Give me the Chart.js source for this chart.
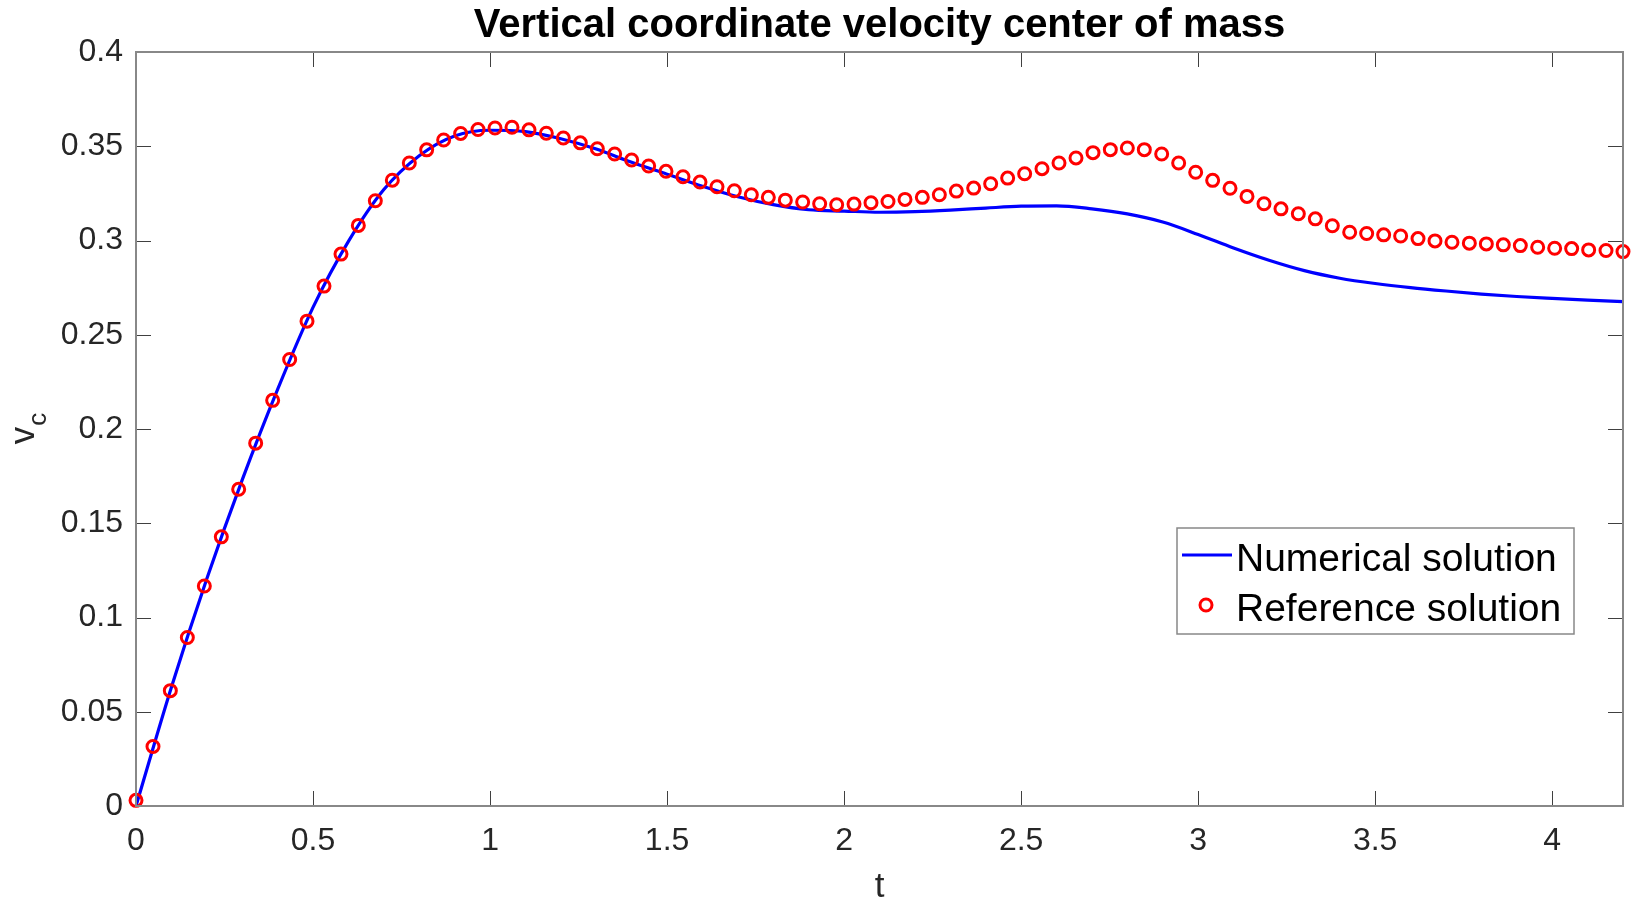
<!DOCTYPE html>
<html>
<head>
<meta charset="utf-8">
<title>Vertical coordinate velocity center of mass</title>
<script src="https://cdn.jsdelivr.net/npm/chart.js@4.4.1/dist/chart.umd.min.js"></script>
<style>
html, body { margin: 0; padding: 0; background: #fff; }
#wrap { width: 1635px; height: 900px; }
</style>
</head>
<body>
<div id="wrap"><canvas id="grafico" width="1635" height="900"></canvas></div>
<script>
const fuente = "'Liberation Sans', Arial, Helvetica, sans-serif";

const tituloGrafico = 'Vertical coordinate velocity center of mass';
const etiquetaX = 't';
const etiquetaY = 'v';
const subindiceY = 'c';
const nombreNum = 'Numerical solution';
const nombreRef = 'Reference solution';

const ticksX = [0, 0.5, 1, 1.5, 2, 2.5, 3, 3.5, 4];
const ticksY = [0, 0.05, 0.1, 0.15, 0.2, 0.25, 0.3, 0.35, 0.4];

// numerical solution (solid line)
const tiempoNum = [0, 0.1, 0.2, 0.3, 0.4, 0.5, 0.6, 0.7, 0.8, 0.9,
  1.0, 1.1, 1.2, 1.3, 1.4, 1.5, 1.6, 1.7, 1.8, 1.9,
  2.0, 2.1, 2.2, 2.3, 2.4, 2.5, 2.6, 2.7, 2.8, 2.9,
  3.0, 3.1, 3.2, 3.3, 3.4, 3.5, 3.6, 3.7, 3.8, 3.9,
  4.0, 4.1, 4.2];
const velNum = [0, 0.063, 0.1205, 0.173, 0.221, 0.2645, 0.2995, 0.327, 0.345, 0.3555,
  0.3585, 0.3578, 0.354, 0.3485, 0.3415, 0.3352, 0.3288, 0.3232, 0.319, 0.3163,
  0.3156, 0.315, 0.3153, 0.3161, 0.3172, 0.3182, 0.3184, 0.3168, 0.3141, 0.3098,
  0.3032, 0.296, 0.2895, 0.284, 0.28, 0.2772, 0.275, 0.2732, 0.2716, 0.2703,
  0.2693, 0.2684, 0.2676];

// reference solution (circles)
const tiempoRef = [0, 0.048, 0.097, 0.145, 0.193, 0.241, 0.290, 0.338, 0.386, 0.434,
  0.483, 0.531, 0.579, 0.628, 0.676, 0.724, 0.772, 0.821, 0.869, 0.917,
  0.966, 1.014, 1.062, 1.110, 1.159, 1.207, 1.255, 1.303, 1.352, 1.400,
  1.448, 1.497, 1.545, 1.593, 1.641, 1.690, 1.738, 1.786, 1.834, 1.883,
  1.931, 1.979, 2.028, 2.076, 2.124, 2.172, 2.221, 2.269, 2.317, 2.366,
  2.414, 2.462, 2.510, 2.559, 2.607, 2.655, 2.703, 2.752, 2.800, 2.848,
  2.897, 2.945, 2.993, 3.041, 3.090, 3.138, 3.186, 3.234, 3.283, 3.331,
  3.379, 3.428, 3.476, 3.524, 3.572, 3.621, 3.669, 3.717, 3.766, 3.814,
  3.862, 3.910, 3.959, 4.007, 4.055, 4.103, 4.152, 4.200];
const velRef = [0.003, 0.0316, 0.0612, 0.0894, 0.1167, 0.1428, 0.168, 0.1925, 0.2152, 0.2369,
  0.2572, 0.2758, 0.2928, 0.308, 0.3211, 0.332, 0.3411, 0.3481, 0.3533, 0.3568,
  0.3589, 0.3597, 0.3601, 0.3587, 0.3569, 0.3544, 0.3518, 0.3487, 0.3459, 0.3427,
  0.3395, 0.3367, 0.3338, 0.331, 0.3285, 0.3264, 0.3243, 0.3229, 0.3214, 0.3204,
  0.3195, 0.319, 0.3193, 0.32, 0.3207, 0.3218, 0.3229, 0.3243, 0.3262, 0.3278,
  0.3301, 0.3331, 0.3354, 0.3381, 0.3411, 0.3438, 0.3466, 0.3482, 0.3491, 0.3482,
  0.3459, 0.3411, 0.3362, 0.3319, 0.3277, 0.3234, 0.3195, 0.3168, 0.3142, 0.3115,
  0.3078, 0.3044, 0.3037, 0.303, 0.3024, 0.301, 0.2998, 0.2991, 0.2986, 0.2982,
  0.2977, 0.2973, 0.2964, 0.2959, 0.2957, 0.295, 0.2947, 0.2941];

const formato = v => String(Math.round(v * 1000) / 1000);

// box around the axes with ticks pointing inwards (matlab style)
const marcoEjes = {
  id: 'marcoEjes',
  afterDatasetsDraw(chart) {
    const { ctx, chartArea: a, scales: { x, y } } = chart;
    const largo = 15;
    ctx.save();
    ctx.strokeStyle = '#404040';
    ctx.lineWidth = 1;
    ctx.beginPath();
    x.ticks.forEach(t => {
      const px = Math.round(x.getPixelForValue(t.value)) + 0.5;
      ctx.moveTo(px, a.bottom); ctx.lineTo(px, a.bottom - largo);
      ctx.moveTo(px, a.top); ctx.lineTo(px, a.top + largo);
    });
    y.ticks.forEach(t => {
      const py = Math.round(y.getPixelForValue(t.value)) + 0.5;
      ctx.moveTo(a.left, py); ctx.lineTo(a.left + largo, py);
      ctx.moveTo(a.right, py); ctx.lineTo(a.right - largo, py);
    });
    ctx.stroke();
    ctx.strokeStyle = '#888888';
    ctx.lineWidth = 2;
    ctx.strokeRect(a.left, a.top, a.right - a.left, a.bottom - a.top);
    ctx.restore();
  }
};

// title, axis labels and the legend box
const textos = {
  id: 'textos',
  afterDraw(chart) {
    const { ctx, chartArea: a } = chart;
    const cx = (a.left + a.right) / 2;
    const cy = (a.top + a.bottom) / 2;
    ctx.save();
    ctx.fillStyle = '#000';
    ctx.textAlign = 'center';
    ctx.textBaseline = 'alphabetic';
    ctx.font = 'bold 40px ' + fuente;
    ctx.fillText(tituloGrafico, cx, a.top - 15);

    ctx.fillStyle = '#262626';
    ctx.font = '35px ' + fuente;
    ctx.fillText(etiquetaX, cx, a.bottom + 91);

    // y label with subscript
    ctx.translate(34, cy);
    ctx.rotate(-Math.PI / 2);
    ctx.textAlign = 'left';
    ctx.font = '35px ' + fuente;
    const w1 = ctx.measureText(etiquetaY).width;
    ctx.font = '26px ' + fuente;
    const w2 = ctx.measureText(subindiceY).width;
    const x0 = -(w1 + w2) / 2;
    ctx.font = '35px ' + fuente;
    ctx.fillText(etiquetaY, x0, 0);
    ctx.font = '26px ' + fuente;
    ctx.fillText(subindiceY, x0 + w1 + 1, 12);
    ctx.restore();

    // legend
    const ds = chart.data.datasets;
    const izq = a.right - 446, arr = 528, ancho = 397, alto = 106;
    ctx.save();
    ctx.fillStyle = '#fff';
    ctx.fillRect(izq, arr, ancho, alto);
    ctx.strokeStyle = '#888888';
    ctx.lineWidth = 1.5;
    ctx.strokeRect(izq, arr, ancho, alto);
    const filas = [arr + 27, arr + 77];
    const orden = [1, 0];
    orden.forEach((i, n) => {
      const d = ds[i];
      const fy = filas[n];
      if (d.showLine === false) {
        ctx.strokeStyle = d.borderColor;
        ctx.lineWidth = d.pointBorderWidth;
        ctx.beginPath();
        ctx.arc(izq + 29, fy, d.pointRadius, 0, Math.PI * 2);
        ctx.stroke();
      } else {
        ctx.strokeStyle = d.borderColor;
        ctx.lineWidth = d.borderWidth;
        ctx.beginPath();
        ctx.moveTo(izq + 5, fy);
        ctx.lineTo(izq + 55, fy);
        ctx.stroke();
      }
      ctx.fillStyle = '#000';
      ctx.font = '39px ' + fuente;
      ctx.textAlign = 'left';
      ctx.textBaseline = 'alphabetic';
      ctx.fillText(d.label, izq + 59, fy + 16);
    });
    ctx.restore();
  }
};

const ctxGrafico = document.getElementById('grafico').getContext('2d');
const configuracion = {
  type: 'line',
  data: {
    datasets: [{
      label: nombreRef,
      data: tiempoRef.map((t, i) => ({ x: t, y: velRef[i] })),
      showLine: false,
      pointStyle: 'circle',
      pointRadius: 6,
      pointBorderWidth: 3,
      pointBackgroundColor: 'rgba(0,0,0,0)',
      borderColor: '#ff0000',
      pointBorderColor: '#ff0000',
      clip: false,
      order: 0
    }, {
      label: nombreNum,
      data: tiempoNum.map((t, i) => ({ x: t, y: velNum[i] })),
      borderColor: '#0000ff',
      borderWidth: 3.2,
      pointRadius: 0,
      fill: false,
      cubicInterpolationMode: 'monotone',
      order: 1
    }]
  },
  options: {
    responsive: false,
    animation: false,
    devicePixelRatio: 1,
    layout: { padding: { top: 52, right: 12, left: 0, bottom: 0 } },
    plugins: {
      legend: { display: false },
      tooltip: { enabled: false },
      title: { display: false }
    },
    scales: {
      x: {
        type: 'linear',
        min: 0,
        max: 4.2,
        grid: { display: false, drawTicks: false },
        border: { display: false },
        afterBuildTicks: s => { s.ticks = ticksX.map(v => ({ value: v })); },
        afterFit: s => { s.height = 94; },
        ticks: {
          padding: 16,
          color: '#262626',
          font: { family: fuente, size: 32 },
          maxRotation: 0,
          autoSkip: false,
          callback: v => formato(v)
        }
      },
      y: {
        type: 'linear',
        min: 0,
        max: 0.4,
        grid: { display: false, drawTicks: false },
        border: { display: false },
        afterBuildTicks: s => { s.ticks = ticksY.map(v => ({ value: v })); },
        afterFit: s => { s.width = 136; },
        ticks: {
          padding: 13,
          color: '#262626',
          font: { family: fuente, size: 32 },
          autoSkip: false,
          callback: v => formato(v)
        }
      }
    }
  },
  plugins: [marcoEjes, textos]
};
const grafico = new Chart(ctxGrafico, configuracion);
</script>
</body>
</html>
